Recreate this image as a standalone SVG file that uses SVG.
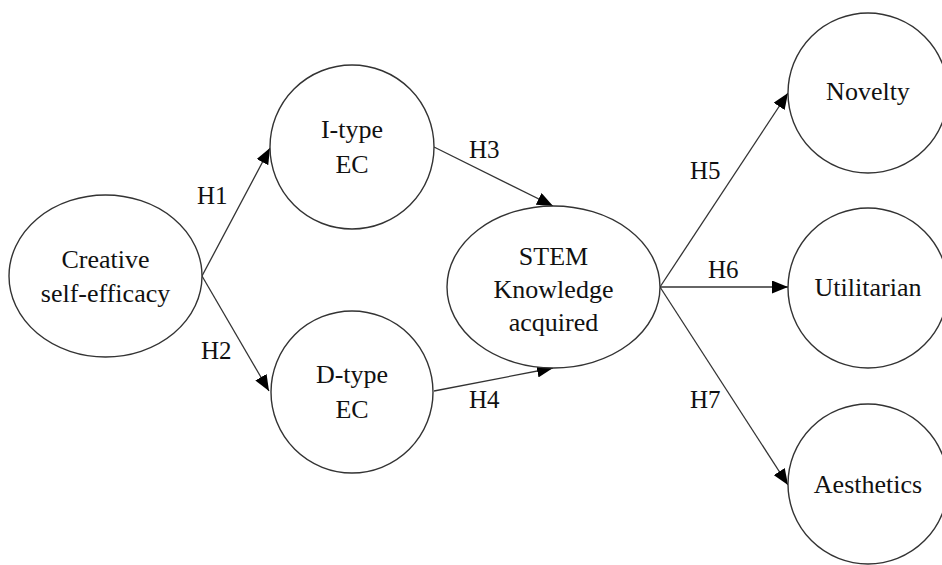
<svg xmlns="http://www.w3.org/2000/svg" width="942" height="565" viewBox="0 0 942 565">
<style>
.node{fill:#fff;stroke:#333;stroke-width:1.4}
.t{font-family:'Liberation Serif',serif;font-size:26px;fill:#111;text-anchor:middle}
.lbl{font-family:'Liberation Serif',serif;font-size:25px;fill:#111}
.edge{stroke:#333;stroke-width:1.3;fill:none;marker-end:url(#arr)}
</style>
<defs>
<marker id="arr" markerUnits="userSpaceOnUse" markerWidth="17" markerHeight="13" refX="16" refY="6.5" orient="auto">
<path d="M0,0 L16,6.5 L0,13 z" fill="#000"/>
</marker>
</defs>
<rect width="942" height="565" fill="#fff"/>
<g id="connectors">
<line class="edge" x1="202" y1="276" x2="270" y2="148"/>
<line class="edge" x1="202" y1="276" x2="269" y2="391"/>
<line class="edge" x1="434" y1="147" x2="553" y2="206"/>
<line class="edge" x1="434" y1="391" x2="553" y2="368"/>
<line class="edge" x1="660" y1="287" x2="788" y2="93"/>
<line class="edge" x1="660" y1="287" x2="788" y2="287"/>
<line class="edge" x1="660" y1="287" x2="788" y2="485"/>
<text class="lbl" x="197" y="204">H1</text>
<text class="lbl" x="201" y="359">H2</text>
<text class="lbl" x="469" y="158">H3</text>
<text class="lbl" x="469" y="408">H4</text>
<text class="lbl" x="690" y="179">H5</text>
<text class="lbl" x="708" y="278">H6</text>
<text class="lbl" x="690" y="408">H7</text>
</g>
<g id="creative">
<ellipse class="node" cx="105.5" cy="276" rx="96.5" ry="81"/>
<text class="t" x="105.5" y="268">Creative</text>
<text class="t" x="105.5" y="302">self-efficacy</text>
</g>
<g id="itype">
<circle class="node" cx="352" cy="147" r="82"/>
<text class="t" x="352" y="138">I-type</text>
<text class="t" x="352" y="173">EC</text>
</g>
<g id="dtype">
<circle class="node" cx="352" cy="392" r="81"/>
<text class="t" x="352" y="383">D-type</text>
<text class="t" x="352" y="418">EC</text>
</g>
<g id="stem">
<ellipse class="node" cx="553.5" cy="287" rx="106.5" ry="81"/>
<text class="t" x="553.5" y="265">STEM</text>
<text class="t" x="553.5" y="298">Knowledge</text>
<text class="t" x="553.5" y="331">acquired</text>
</g>
<g id="novelty">
<circle class="node" cx="868" cy="93" r="80"/>
<text class="t" x="868" y="100">Novelty</text>
</g>
<g id="utilitarian">
<circle class="node" cx="868" cy="288" r="80"/>
<text class="t" x="868" y="296">Utilitarian</text>
</g>
<g id="aesthetics">
<circle class="node" cx="868" cy="484" r="80"/>
<text class="t" x="868" y="493">Aesthetics</text>
</g>
</svg>
